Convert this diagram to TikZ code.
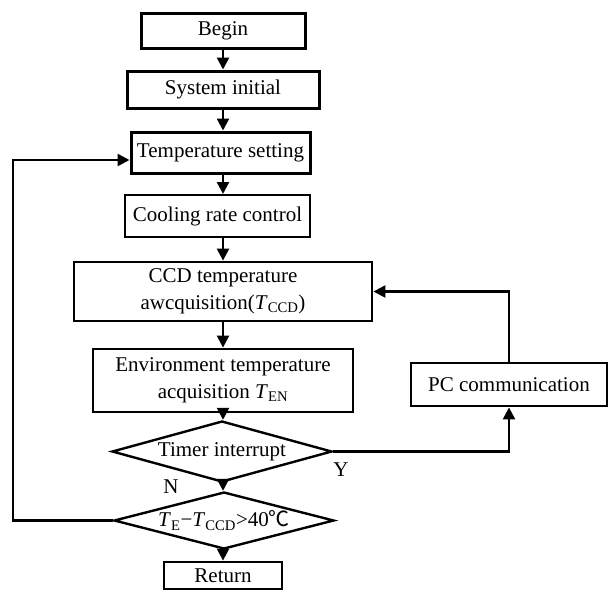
\documentclass[tikz,border=0pt]{standalone}
\usepackage{fontspec}
\setmainfont{Liberation Serif}
\newfontfamily\cjkfont{Noto Sans CJK SC}
\usetikzlibrary{arrows.meta,shapes.geometric}
\begin{document}
\begin{tikzpicture}[x=1pt,y=-1pt,
  font=\fontsize{21}{27}\selectfont,
  box/.style={draw,line width=2.8pt,inner sep=0pt,align=center},
  dia/.style={draw,diamond,line width=2.4pt,inner sep=0pt},
  arr/.style={line width=2.4pt,-{Triangle[length=12pt,width=12pt]}},
  ln/.style={line width=2.4pt}]
\useasboundingbox (0,0) rectangle (609,590);
\node[box,line width=3pt,minimum width=164,minimum height=35] (begin) at (223,30.5) {Begin};
\node[box,line width=3pt,minimum width=192,minimum height=37] (sys) at (223,89.5) {System initial};
\node[box,line width=3pt,minimum width=179,minimum height=41] (temp) at (220.5,152.5) {Temperature setting};
\node[box,line width=2pt,minimum width=185,minimum height=42] (cool) at (217.5,216) {Cooling rate control};
\node[box,minimum width=298,minimum height=59] (ccd) at (223,291.5) {CCD temperature\\awcquisition(\textit{T}\textsubscript{CCD})};
\node[box,minimum width=260,minimum height=63] (env) at (223,380.5) {Environment temperature\\acquisition \textit{T}\textsubscript{EN}};
\node[dia,minimum width=220,minimum height=61] (timer) at (222,451.5) {};
\node (timertext) at (timer.center) {Timer interrupt};
\node[dia,minimum width=220,minimum height=57] (cond) at (224,520.5) {};
\node (condtext) at (cond.center) {\textit{T}\textsubscript{E}−\textit{T}\textsubscript{CCD}>40{\cjkfont ℃}};
\node[box,minimum width=118,minimum height=27] (ret) at (223,575.5) {Return};
\node[box,minimum width=196,minimum height=43] (pc) at (509,384.5) {PC communication};
\node (ylab) at (341,470) {Y};
\node (nlab) at (171,487) {N};
\coordinate (lc) at (13,160);
\draw[arr] (begin.south) -- (sys.north);
\draw[arr] (sys.south) -- (sys.south |- temp.north);
\draw[arr] (sys.south |- temp.south) -- (sys.south |- cool.north);
\draw[arr] (sys.south |- cool.south) -- (ccd.north);
\draw[arr] (ccd.south) -- (env.north);
\draw[arr] (env.south) -- (env.south |- timer.north);
\draw[arr] (env.south |- timer.south) -- (env.south |- cond.north);
\draw[arr] (env.south |- cond.south) -- (ret.north);
\draw[arr] (timer.east) -| (pc.south);
\draw[arr] (pc.north) |- (ccd.east);
\draw[arr] (cond.west) -| (lc) -- (lc -| temp.west);
\end{tikzpicture}
\end{document}
